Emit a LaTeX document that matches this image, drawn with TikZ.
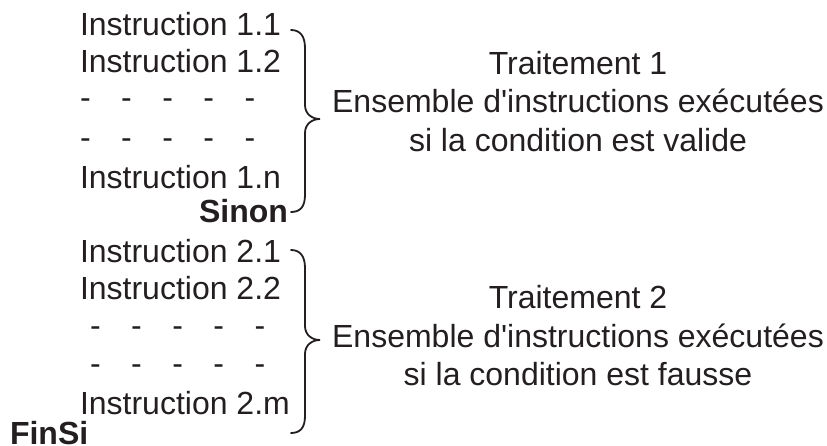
\documentclass[tikz,border=0pt]{standalone}
\usepackage{fontspec}
\setmainfont{Liberation Sans}
\definecolor{ink}{HTML}{231F20}
\newcommand{\dashrow}{-\hspace{30.5pt}-\hspace{30.5pt}-\hspace{30.5pt}-\hspace{30.5pt}-}
\begin{document}
\begin{tikzpicture}[x=1pt,y=-1pt,
  txt/.style={inner sep=0pt,outer sep=0pt,font=\fontsize{32}{38}\selectfont,text=ink},
  instr/.style={txt,anchor=base west},
  kw/.style={txt,font=\fontsize{32}{38}\selectfont\bfseries},
  desc/.style={txt,anchor=base},
  bracestyle/.style={draw=ink,line width=1.8pt,line cap=round}]
\useasboundingbox (0,0) rectangle (827,446);
% block 1
\node[instr] (i11) at (80,36) {Instruction 1.1};
\node[instr] (i12) at (80,73) {Instruction 1.2};
\node[instr] (d11) at (80,109) {\dashrow};
\node[instr] (d12) at (80,149) {\dashrow};
\node[instr] (i1n) at (80,189) {Instruction 1.n};
\node[kw,anchor=base east] (sinon) at (288,223) {Sinon};
% block 2
\node[instr] (i21) at (80,263) {Instruction 2.1};
\node[instr] (i22) at (80,299) {Instruction 2.2};
\node[instr] (d21) at (90,336) {\dashrow};
\node[instr] (d22) at (90,374) {\dashrow};
\node[instr] (i2m) at (80,414) {Instruction 2.m};
\node[kw,anchor=base west] (finsi) at (10,444) {FinSi};
% descriptions
\node[desc] (t1a) at (578,74.5) {Traitement 1};
\node[desc] (t1b) at (578,113) {Ensemble d\textquotesingle instructions exécutées};
\node[desc] (t1c) at (578,151.5) {si la condition est valide};
\node[desc] (t2a) at (578,308.5) {Traitement 2};
\node[desc] (t2b) at (578,347) {Ensemble d\textquotesingle instructions exécutées};
\node[desc] (t2c) at (578,385.5) {si la condition est fausse};
% braces
\draw[bracestyle] (291,30) .. controls (300,30) and (305,36) .. (305,48)
  -- (305,105) .. controls (305,114) and (312,119) .. (320,119)
  .. controls (312,119) and (305,124) .. (305,133)
  -- (305,195) .. controls (305,207) and (300,212) .. (291,212);
\draw[bracestyle] (291,250) .. controls (300,250) and (305,256) .. (305,268)
  -- (305,326) .. controls (305,335) and (312,340) .. (320,340)
  .. controls (312,340) and (305,345) .. (305,354)
  -- (305,416) .. controls (305,428) and (300,433) .. (291,433);
\end{tikzpicture}
\end{document}
